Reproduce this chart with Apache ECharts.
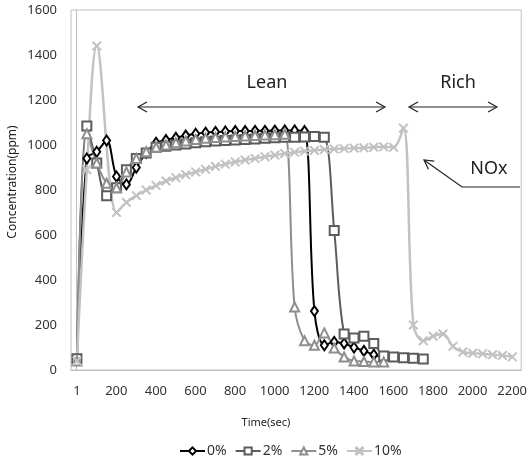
<!DOCTYPE html>
<html>
<head>
<meta charset="utf-8">
<script src="https://cdn.jsdelivr.net/npm/echarts@6/dist/echarts.min.js"></script>
<style>
  html, body { margin: 0; padding: 0; background: #fff; }
  #chart { width: 530px; height: 458px; }
</style>
</head>
<body>
<div id="chart"></div>
<script>
// Sampling times (sec), shared by all four runs
const times = [1, 51, 101, 151, 201, 251, 301, 351, 401, 451, 501, 551, 601, 651, 701, 751,
  801, 851, 901, 951, 1001, 1051, 1101, 1151, 1201, 1251, 1301, 1351, 1401, 1451, 1501, 1551,
  1601, 1651, 1701, 1751, 1801, 1851, 1901, 1951, 2001, 2051, 2101, 2151, 2201];

// NOx concentration (ppm) for each run (null = no sample at that time)
const noxPct0 = [45, 940, 970, 1020, 860, 825, 900, 965, 1010, 1022, 1032, 1042, 1050, 1055, 1058, 1060,
  1062, 1062, 1063, 1063, 1064, 1065, 1065, 1062, 262, 110, 125, 118, 100, 85, 68, 55];
const noxPct2 = [50, 1085, 920, 775, 810, 890, 940, 965, 990, 995, 1000, 1005, 1010, 1015, 1018, 1020,
  1022, 1025, 1027, 1030, 1032, 1034, 1035, 1036, 1038, 1035, 620, 160, 142, 150, 118, 62,
  58, 54, 52, 49];
const noxPct5 = [40, 1050, 920, 830, 810, 880, 940, 970, 990, 1000, 1010, 1018, 1025, 1030, 1033, 1036,
  1038, 1040, 1042, 1044, 1046, 1048, 280, 130, 110, 165, 98, 58, 40, 38, 36, 36];
const noxPct10 = [40, 890, 1440, null, 700, 745, 775, 800, 820, 840, 855, 868, 880, 892, 905, 915,
  925, 933, 940, 948, 955, 962, 968, 973, 976, 980, 982, 984, 986, 988, 990, 992,
  990, 1075, 200, 130, 150, 160, 105, 80, 75, 72, 68, 65, 58];

const seriesNames = ['0%', '2%', '5%', '10%'];
const xTickLabels = [1, 200, 400, 600, 800, 1000, 1200, 1400, 1600, 1800, 2000, 2200];

const FONT = '"Noto Sans", "Open Sans", sans-serif';
const crossSymbol = 'path://M0,1L1,0L5,4L9,0L10,1L6,5L10,9L9,10L5,6L1,10L0,9L4,5Z';

function toPairs(values) {
  return values.map((v, i) => [times[i], v]);
}

function makeSeries(name, values, color, symbol, symbolSize, width) {
  return {
    name: name,
    type: 'line',
    data: toPairs(values),
    smooth: 0.35,
    connectNulls: true,
    showSymbol: true,
    symbol: symbol,
    symbolSize: symbolSize,
    lineStyle: { color: color, width: width },
    itemStyle: { color: color, borderColor: color, borderWidth: 1 },
    emphasis: { disabled: true },
    animation: false
  };
}

// open V arrowhead at (x, y) pointing along (dx, dy)
function arrowHead(x, y, dx, dy) {
  const len = Math.hypot(dx, dy);
  const ux = dx / len, uy = dy / len;
  const bx = x - ux * 9, by = y - uy * 9;
  const px = -uy * 5, py = ux * 5;
  return {
    type: 'polyline',
    shape: { points: [[bx + px, by + py], [x, y], [bx - px, by - py]] },
    style: { stroke: '#222', lineWidth: 1.2, fill: null }
  };
}

function doubleArrow(x1, x2, y) {
  return [
    { type: 'line', shape: { x1: x1, y1: y, x2: x2, y2: y }, style: { stroke: '#222', lineWidth: 1.2 } },
    arrowHead(x1, y, -1, 0),
    arrowHead(x2, y, 1, 0)
  ];
}

function label(text, x, y, size) {
  return {
    type: 'text', x: x, y: y,
    style: { text: text, fill: '#222', font: size + 'px ' + FONT, align: 'center', verticalAlign: 'middle' }
  };
}

const plain = v => String(v);

const chart = echarts.init(document.getElementById('chart'), null, { renderer: 'canvas' });

chart.setOption({
  backgroundColor: '#fff',
  animation: false,
  grid: {
    left: 71, right: 4, top: 10, bottom: 88,
    show: true, borderColor: '#c0c0c0', borderWidth: 1, backgroundColor: 'transparent'
  },
  xAxis: {
    type: 'value',
    min: -29,
    max: 2246,
    axisLine: { show: true, lineStyle: { color: '#c0c0c0' } },
    axisTick: { show: false },
    splitLine: { show: false },
    axisLabel: {
      customValues: xTickLabels,
      formatter: plain,
      color: '#333',
      fontSize: 13,
      fontFamily: FONT,
      margin: 15
    }
  },
  yAxis: {
    type: 'value',
    min: 0,
    max: 1600,
    interval: 200,
    axisLine: { show: true, lineStyle: { color: '#c0c0c0' } },
    axisTick: { show: false },
    splitLine: { show: false },
    axisLabel: { formatter: plain, color: '#333', fontSize: 13, fontFamily: FONT, margin: 14 }
  },
  legend: {
    data: seriesNames,
    left: 174,
    top: 439,
    itemWidth: 25,
    itemHeight: 9,
    itemGap: 8,
    textStyle: { color: '#333', fontSize: 14, fontFamily: FONT, padding: [0, 0, 0, -3] }
  },
  series: [
    makeSeries(seriesNames[0], noxPct0, '#000000', 'emptyDiamond', [7, 10], 2),
    makeSeries(seriesNames[1], noxPct2, '#5c5c5c', 'emptyRect', 9, 2),
    makeSeries(seriesNames[2], noxPct5, '#8e8e8e', 'emptyTriangle', 9, 2),
    makeSeries(seriesNames[3], noxPct10, '#c2c2c2', crossSymbol, 9, 2.5)
  ],
  graphic: [
    label('Lean', 267, 83, 18),
    label('Rich', 458, 83, 18),
    label('NOx', 489, 169, 18),
    ...doubleArrow(138, 385, 107),
    ...doubleArrow(409, 497, 107),
    {
      type: 'polyline',
      shape: { points: [[520, 187], [462, 187], [424, 160]] },
      style: { stroke: '#222', lineWidth: 1.2, fill: null }
    },
    arrowHead(424, 160, 424 - 462, 160 - 187),
    {
      type: 'text', x: 266, y: 423,
      style: { text: 'Time(sec)', fill: '#222', font: '11px ' + FONT, align: 'center', verticalAlign: 'middle' }
    },
    {
      type: 'text', x: 13, y: 182, rotation: Math.PI / 2,
      style: { text: 'Concentration(ppm)', fill: '#222', font: '12px ' + FONT, align: 'center', verticalAlign: 'middle' }
    }
  ]
});
</script>
</body>
</html>
